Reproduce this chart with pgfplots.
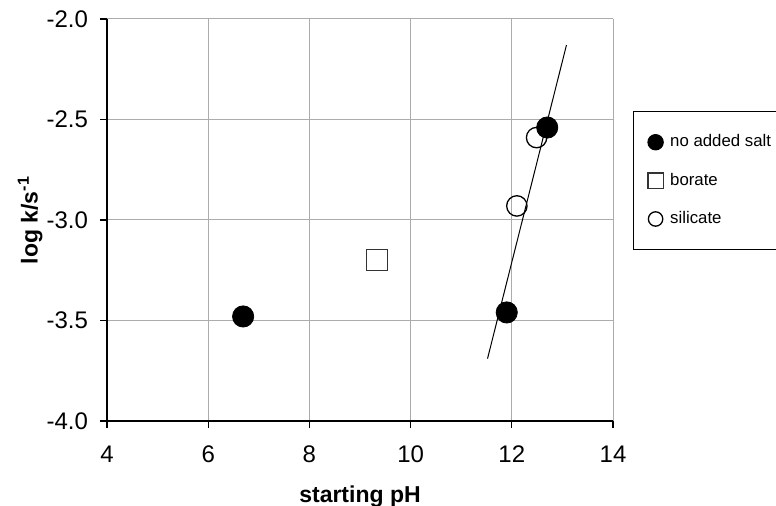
\documentclass[border=0pt]{standalone}
\usepackage{pgfplots}
\pgfplotsset{compat=1.18}
\usepackage{fontspec}
\setmainfont{Liberation Sans}
\begin{document}
\begin{tikzpicture}
\useasboundingbox (0,0) rectangle (388pt,253pt);
\clip (0,0) rectangle (388pt,253pt);
\begin{axis}[
  at={(53.5pt,42.5pt)}, anchor=south west,
  scale only axis, width=253pt, height=201pt,
  xmin=4, xmax=14, ymin=-4, ymax=-2,
  xtick={4,6,8,10,12,14}, xticklabels={4,6,8,10,12,14},
  ytick={-4,-3.5,-3,-2.5,-2}, yticklabels={-4.0,-3.5,-3.0,-2.5,-2.0},
  axis x line*=bottom, axis y line*=left,
  axis line style={-, black, line width=0.65pt},
  tick align=outside, major tick length=3.5pt,
  tick style={black, line width=0.65pt},
  grid=major, major grid style={gray!65, line width=0.5pt},
  ticklabel style={font=\fontsize{12}{14}\selectfont},
  xticklabel style={yshift=-5.5pt},
  yticklabel style={xshift=-2.5pt},
  xlabel={starting pH},
  ylabel={log k/s\textsuperscript{-1}},
  xlabel style={at={(axis description cs:0.5,-0.187)}, anchor=center, font=\fontsize{11.5}{13}\selectfont\bfseries},
  ylabel style={at={(axis description cs:-0.152,0.5)}, anchor=center, font=\fontsize{11.5}{13}\selectfont\bfseries},
  legend style={at={(axis description cs:1.0395,0.771)}, anchor=north west, draw=black, line width=0.6pt,
    font=\fontsize{8.4}{10}\selectfont, row sep=7.6pt, inner xsep=7pt, inner ysep=9.5pt,
    cells={anchor=west}, /tikz/every odd column/.append style={column sep=1.5pt}},
  legend cell align=left,
  legend image code/.code={\path[draw=none, fill=none] (-4pt,0pt) -- (3.8pt,0pt); \draw[#1] plot coordinates {(0pt,0pt)};},
]
\addplot[forget plot, black, line width=0.5pt] coordinates {(11.52,-3.69) (13.08,-2.13)};
\addplot[only marks, mark=*, mark size=5.3pt, black, legend image post style={mark size=3.8pt}]
  coordinates {(6.69,-3.48) (11.90,-3.46) (12.70,-2.54)};
\addlegendentry{no added salt}
\addplot[only marks, mark=square, mark size=5.25pt, black!80, line width=0.65pt, legend image post style={mark size=3.8pt}]
  coordinates {(9.34,-3.20)};
\addlegendentry{borate}
\addplot[only marks, mark=o, mark size=5.1pt, black, line width=0.65pt, fill=white, legend image post style={mark size=3.6pt}]
  coordinates {(12.49,-2.59) (12.10,-2.93)};
\addlegendentry{silicate}
\end{axis}
\end{tikzpicture}
\end{document}
